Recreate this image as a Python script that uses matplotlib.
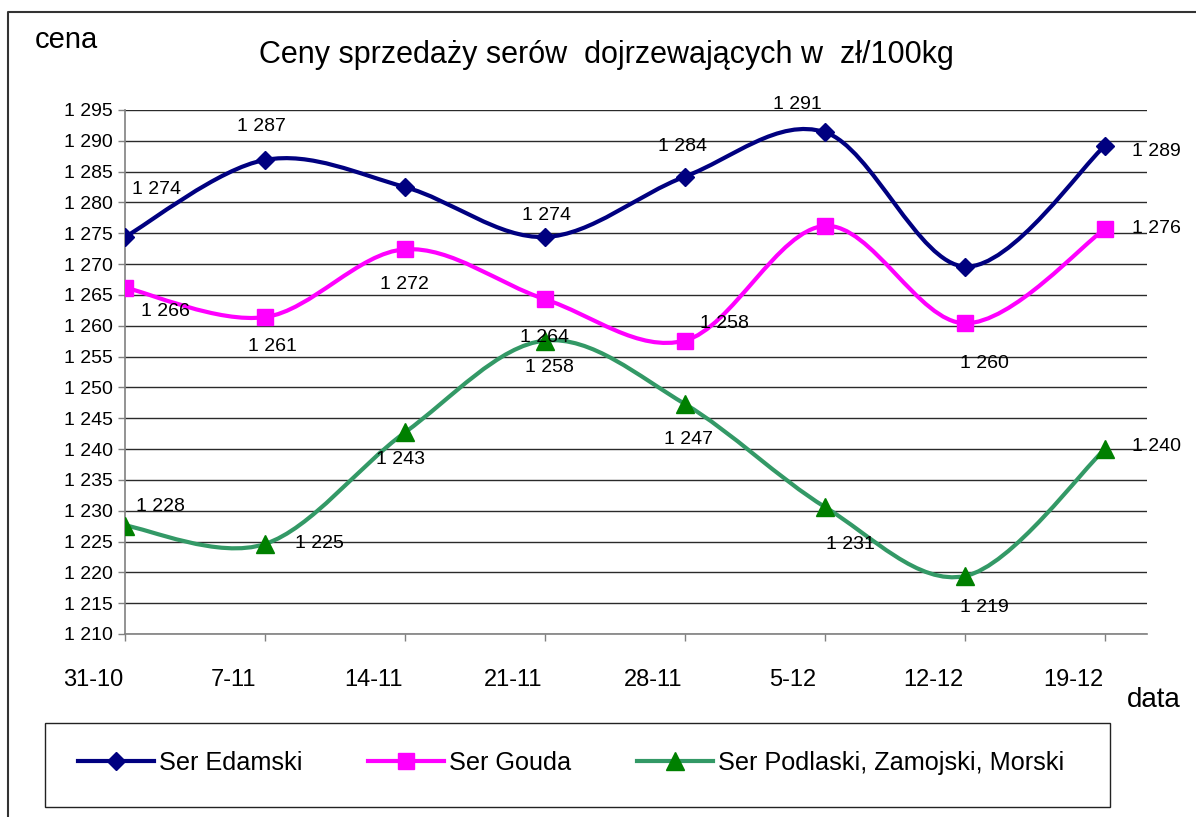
import numpy as np
import matplotlib
matplotlib.use("Agg")
import matplotlib.pyplot as plt
from matplotlib.path import Path
from matplotlib.patches import PathPatch, Rectangle
from matplotlib.lines import Line2D
from matplotlib.ticker import FuncFormatter, MultipleLocator
from matplotlib.transforms import ScaledTranslation

plt.rcParams['font.family'] = ['Liberation Sans', 'DejaVu Sans']

# ---- data ----
dates = ["31-10", "7-11", "14-11", "21-11", "28-11", "5-12", "12-12", "19-12"]
edamski = [1274.4, 1286.9, 1282.5, 1274.4, 1284.2, 1291.4, 1269.6, 1289.2]
gouda = [1266.2, 1261.4, 1272.4, 1264.3, 1257.6, 1276.2, 1260.4, 1275.7]
podlaski = [1227.6, 1224.6, 1242.7, 1257.6, 1247.3, 1230.6, 1219.4, 1240.0]
series_names = ["Ser Edamski", "Ser Gouda", "Ser Podlaski, Zamojski, Morski"]
title = "Ceny sprzedaży serów  dojrzewających w  zł/100kg"

# label offsets (pixels, None = no label)
edam_off = [(32, 47), (-4, 33), None, (2, 21), (-3, 30), (-28, 28), None, (51, -6)]
gouda_off = [(40, -24), (7, -29), (-1, -35), (0, -38), (39, 17), None, (19, -40), (51, 0)]
podl_off = [(35, 19), (54, 0), (-4, -27), (4, -27), (4, -35), (25, -37), (19, -31), (51, 3)]

W, H = 1196, 817
fig = plt.figure(figsize=(W / 100, H / 100), dpi=100)
L, R, T, B = 125, 1147, 110, 634
ax = fig.add_axes([L / W, 1 - B / H, (R - L) / W, (B - T) / H])

x = np.arange(len(dates))


def smooth_path(xs, ys):
    P = np.column_stack([xs, ys]).astype(float)
    n = len(P)
    verts = [tuple(P[0])]
    codes = [Path.MOVETO]
    for i in range(n - 1):
        p0 = P[i - 1] if i > 0 else P[i]
        p1 = P[i]
        p2 = P[i + 1]
        p3 = P[i + 2] if i + 2 < n else P[i + 1]
        c1 = p1 + (p2 - p0) / 6.0
        c2 = p2 - (p3 - p1) / 6.0
        verts += [tuple(c1), tuple(c2), tuple(p2)]
        codes += [Path.CURVE4] * 3
    return Path(verts, codes)


styles = [
    dict(line="#000080", mfc="#000080", marker="D", ms=9.5),
    dict(line="#FF00FF", mfc="#FF00FF", marker="s", ms=11),
    dict(line="#339966", mfc="#008000", marker="^", ms=13),
]
data = [edamski, gouda, podlaski]
offs = [edam_off, gouda_off, podl_off]

for yv, st in zip(data, styles):
    ax.add_patch(PathPatch(smooth_path(x, yv), facecolor="none",
                           edgecolor=st["line"], lw=3, zorder=3,
                           capstyle="round", joinstyle="round"))
    ax.plot(x, yv, linestyle="none", marker=st["marker"], ms=st["ms"],
            mfc=st["mfc"], mec=st["mfc"], zorder=4)

for yv, off in zip(data, offs):
    for xi, v, o in zip(x, yv, off):
        if o is None:
            continue
        txt = f"{int(round(v)):,}".replace(",", " ")
        ax.annotate(txt, (xi, v), xytext=o, textcoords="offset pixels",
                    ha="center", va="center", fontsize=14, zorder=5)

ax.set_xlim(0, 7.3)
ax.set_ylim(1210, 1295)
ax.yaxis.set_major_locator(MultipleLocator(5))
ax.yaxis.set_major_formatter(FuncFormatter(lambda v, p: f"{int(v):,}".replace(",", " ")))
ax.set_xticks(x)
ax.set_xticklabels(dates)
ax.grid(axis="y", color="#2a2a2a", lw=1.0)
ax.set_axisbelow(True)
for s in ["top", "right"]:
    ax.spines[s].set_visible(False)
for s in ["left", "bottom"]:
    ax.spines[s].set_color("#808080")
    ax.spines[s].set_linewidth(1.2)
ax.tick_params(axis="y", direction="out", length=5, width=1, color="#808080",
               labelsize=14, pad=4)
ax.tick_params(axis="x", direction="out", length=5, width=1, color="#808080",
               labelsize=17, pad=20)
shift = ScaledTranslation(-0.32, 0, fig.dpi_scale_trans)
for lbl in ax.get_xticklabels():
    lbl.set_transform(lbl.get_transform() + shift)

# texts
fig.text(606 / W, 1 - 55 / H, title, ha="center", va="center", fontsize=22)
fig.text(35 / W, 1 - 40 / H, "cena", ha="left", va="center", fontsize=21)
fig.text(1127 / W, 1 - 700 / H, "data", ha="left", va="center", fontsize=20)

# outer border
fig.add_artist(Line2D([8 / W, 8 / W, 1.0], [0.0, 1 - 12 / H, 1 - 12 / H],
                      transform=fig.transFigure, color="#333333", lw=1.5))

# legend box
fig.add_artist(Rectangle((45 / W, 1 - 807 / H), (1110 - 45) / W, (807 - 723) / H,
                         transform=fig.transFigure, facecolor="white",
                         edgecolor="#222222", lw=1.0))
handles = [Line2D([], [], color=st["line"], lw=3, marker=st["marker"],
                  ms=st["ms"], mfc=st["mfc"], mec=st["mfc"]) for st in styles]
leg = fig.legend(handles, series_names, loc="center left",
                 bbox_to_anchor=(78 / W, 1 - 763 / H), ncol=3, frameon=False,
                 fontsize=18.2, handlelength=3.0, handletextpad=0.2,
                 columnspacing=2.6, borderpad=0, borderaxespad=0, numpoints=1)

fig.savefig("out.png", dpi=100)
